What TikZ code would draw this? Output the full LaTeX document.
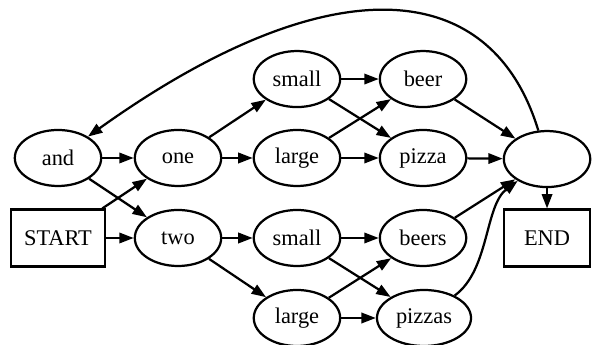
\documentclass[tikz,border=0pt]{standalone}
\usepackage{fontspec}
\newfontfamily\labelfont{LiberationSerif-Regular.ttf}
\usepackage{tikz}
\usetikzlibrary{shapes.geometric,arrows.meta}

\begin{document}
\begin{tikzpicture}[x=1pt,y=1pt,line width=1.4pt,
                    word/.style={draw,ellipse,minimum width=54pt,minimum height=35pt,inner xsep=3.3pt,inner ysep=2pt,font=\labelfont\fontsize{14}{16}\selectfont},
                    term/.style={draw,rectangle,minimum width=54pt,minimum height=35.5pt,inner xsep=8pt,font=\labelfont\fontsize{14}{16}\selectfont},
                    arr/.style={-{Triangle[length=9pt,width=6.5pt]}}]
                    \useasboundingbox (0,0) rectangle (370,-215.6);

                    \node[word] (and) at (36.25,-98.75) {and};
                    \node[term] (start) at (36.25,-148.75) {START};
                    \node[word] (one) at (111.25,-98.75) {one};
                    \node[word] (two) at (111.25,-148.75) {two};
                    \node[word] (smallA) at (185.6,-49.4) {small};
                    \node[word] (largeA) at (185.6,-98.75) {large};
                    \node[word] (smallB) at (185.6,-148.75) {small};
                    \node[word] (largeB) at (185.6,-198.75) {large};
                    \node[word] (beer) at (264.4,-49.4) {beer};
                    \node[word] (pizza) at (264.4,-98.75) {pizza};
                    \node[word] (beers) at (264.4,-148.75) {beers};
                    \node[word] (pizzas) at (265,-198.75) {pizzas};
                    \node[word] (sink) at (341.9,-99.4) {};
                    \node[term] (end) at (341.9,-148.75) {END};

                    \draw[arr] (and) -- (one);
                    \draw[arr] (and) -- (two);
                    \draw[arr] (start) -- (one);
                    \draw[arr] (start) -- (two);
                    \draw[arr] (one) -- (smallA);
                    \draw[arr] (one) -- (largeA);
                    \draw[arr] (two) -- (smallB);
                    \draw[arr] (two) -- (largeB);
                    \draw[arr] (smallA) -- (beer);
                    \draw[arr] (smallA) -- (pizza);
                    \draw[arr] (largeA) -- (beer);
                    \draw[arr] (largeA) -- (pizza);
                    \draw[arr] (smallB) -- (beers);
                    \draw[arr] (smallB) -- (pizzas);
                    \draw[arr] (largeB) -- (beers);
                    \draw[arr] (largeB) -- (pizzas);
                    \draw[arr] (beer) -- (sink);
                    \draw[arr] (pizza) -- (sink);
                    \draw[arr] (beers) -- (sink);
                    \draw[arr] (pizzas) .. controls +(41pt,30pt) and +(-39pt,-29pt) .. (sink);
                    \draw[arr] (sink) -- (end);
                    \draw[arr] (sink) .. controls +(-36pt,118pt) and +(165pt,118pt) .. (and);
\end{tikzpicture}
\end{document}
